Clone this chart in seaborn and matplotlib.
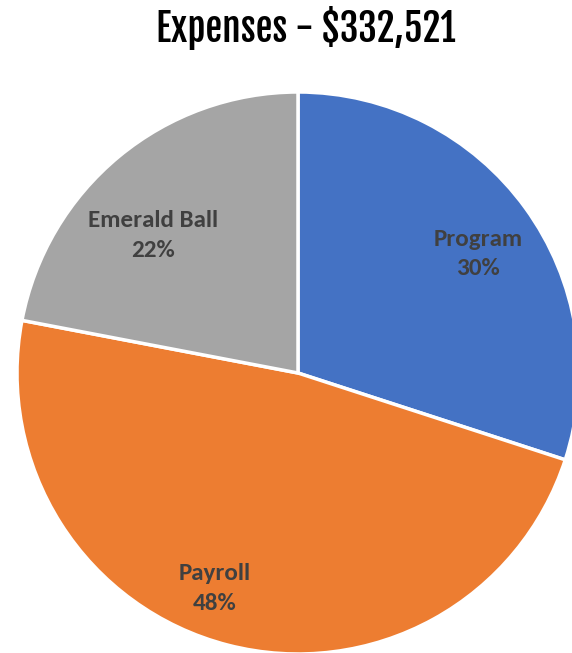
import seaborn as sns
import matplotlib.pyplot as plt

categories = ['Program', 'Payroll', 'Emerald Ball']
shares = [30, 48, 22]
colors = ['#4472C4', '#ED7D31', '#A5A5A5']
# label spots inside the pie (x, y in radius units)
label_spots = [(0.64, 0.423), (-0.295, -0.767), (-0.517, 0.49)]

sns.set_theme(style='white')
plt.rcParams['font.family'] = ['Carlito', 'DejaVu Sans']

fig = plt.figure(figsize=(5.72, 6.53), dpi=100)
ax = fig.add_axes([17 / 572, -1 / 653, 562 / 572, 562 / 653])

wedges, texts = ax.pie(shares, colors=colors, startangle=90, counterclock=False,
                       labels=[f'{c}\n{s}%' for c, s in zip(categories, shares)],
                       labeldistance=0.75,
                       wedgeprops=dict(edgecolor='white', linewidth=2.5))
for t, (x, y) in zip(texts, label_spots):
    t.set_position((x, y))
    t.set_ha('center')
    t.set_va('center')
    t.set_color('#404040')
    t.set_fontsize(18)
    t.set_fontweight('bold')
    t.set_linespacing(1.5)
ax.set_xlim(-1, 1)
ax.set_ylim(-1, 1)
ax.set_aspect('equal')
ax.axis('off')

fig.text(306 / 572, 1 - 28 / 653, 'Expenses - $332,521', ha='center', va='center',
         fontsize=27, family=['Fjalla One', 'DejaVu Sans'], color='black')

fig.savefig('out.png', dpi=100)
